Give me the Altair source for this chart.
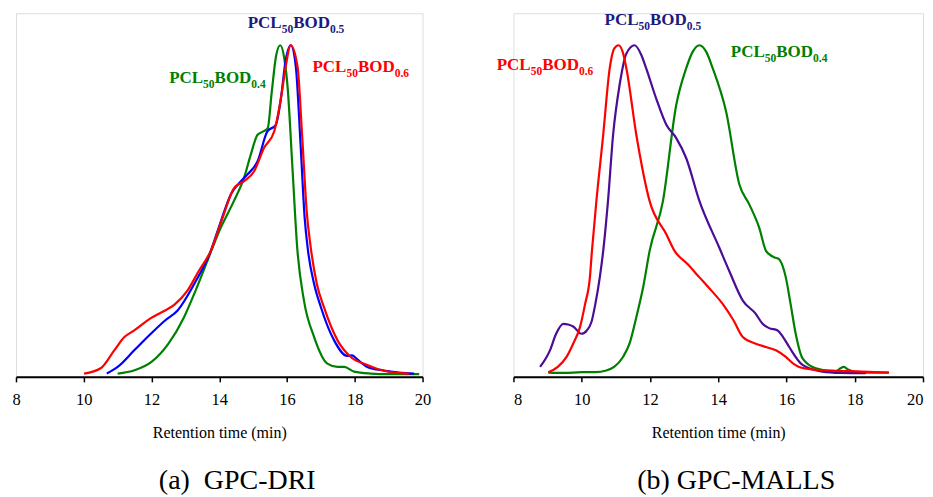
import altair as alt
import pandas as pd

# ---------------- (a) GPC-DRI ----------------
dri_04_x = [11.0, 11.5, 12.0, 12.5, 12.96, 13.3, 13.65, 14.0, 14.43, 14.73, 14.93, 15.13, 15.3, 15.43, 15.55,
            15.68, 15.8, 15.92, 16.02, 16.16, 16.3, 16.5, 16.8, 17.19, 17.49, 17.69, 17.98, 18.47, 19.0, 19.9]
dri_04_y = [0.01, 0.02, 0.045, 0.10, 0.18, 0.26, 0.35, 0.44, 0.53, 0.60, 0.67, 0.73, 0.74, 0.75, 0.86,
            0.97, 1.0, 0.96, 0.87, 0.63, 0.39, 0.23, 0.12, 0.04, 0.03, 0.03, 0.016, 0.01, 0.008, 0.008]

dri_05_x = [10.68, 11.0, 11.49, 11.98, 12.4, 12.77, 13.26, 13.75, 14.05, 14.34, 14.64, 14.83, 15.13, 15.42,
            15.67, 15.82, 15.96, 16.11, 16.26, 16.4, 16.52, 16.62, 16.8, 17.0, 17.39, 17.78, 17.92, 18.05,
            18.37, 18.86, 19.3, 19.75]
dri_05_y = [0.01, 0.03, 0.08, 0.13, 0.17, 0.20, 0.28, 0.38, 0.47, 0.55, 0.59, 0.61, 0.65, 0.74,
            0.76, 0.84, 0.955, 1.0, 0.935, 0.70, 0.48, 0.38, 0.28, 0.21, 0.11, 0.063, 0.065, 0.055,
            0.03, 0.019, 0.013, 0.01]

dri_06_x = [10.01, 10.5, 10.9, 11.2, 11.49, 11.98, 12.3, 12.67, 13.06, 13.4, 13.75, 14.1, 14.44, 14.73, 15.03,
            15.32, 15.62, 15.82, 15.96, 16.11, 16.31, 16.45, 16.58, 16.70, 16.88, 17.09, 17.49, 17.88, 18.37,
            18.8, 19.16, 19.6]
dri_06_y = [0.01, 0.026, 0.08, 0.12, 0.14, 0.177, 0.195, 0.217, 0.26, 0.32, 0.38, 0.48, 0.57, 0.59, 0.62,
            0.69, 0.74, 0.84, 0.935, 1.0, 0.935, 0.72, 0.50, 0.39, 0.28, 0.21, 0.11, 0.06, 0.036,
            0.02, 0.013, 0.01]

# ---------------- (b) GPC-MALLS ----------------
mal_06_x = [9.02, 9.3, 9.56, 9.75, 9.95, 10.1, 10.24, 10.3, 10.43, 10.63, 10.82, 10.95, 11.08, 11.2, 11.31,
            11.6, 11.99, 12.48, 12.72, 13.1, 13.45, 13.8, 14.13, 14.45, 14.72, 15.1, 15.4, 15.69, 15.98,
            16.2, 16.37, 16.8, 17.34, 18.2, 19.0]
mal_06_y = [0.014, 0.03, 0.061, 0.1, 0.15, 0.22, 0.30, 0.38, 0.53, 0.73, 0.93, 0.99, 1.0, 0.98, 0.93,
            0.73, 0.53, 0.43, 0.38, 0.34, 0.30, 0.26, 0.22, 0.17, 0.12, 0.10, 0.09, 0.08, 0.06,
            0.04, 0.03, 0.022, 0.019, 0.016, 0.013]

mal_05_x = [8.78, 9.07, 9.25, 9.46, 9.6, 9.75, 9.99, 10.15, 10.29, 10.4, 10.53, 10.63, 10.77, 10.92, 11.11,
            11.31, 11.55, 11.75, 11.89, 12.18, 12.48, 12.77, 13.06, 13.45, 14.03, 14.32, 14.72, 15.1, 15.3,
            15.49, 15.74, 15.9, 16.08, 16.47, 17.05, 17.6, 18.32]
mal_05_y = [0.03, 0.08, 0.13, 0.16, 0.158, 0.152, 0.13, 0.14, 0.167, 0.22, 0.30, 0.38, 0.53, 0.73, 0.88,
            0.975, 1.0, 0.97, 0.93, 0.84, 0.76, 0.72, 0.66, 0.53, 0.39, 0.32, 0.23, 0.19, 0.16,
            0.147, 0.14, 0.12, 0.09, 0.036, 0.016, 0.012, 0.011]

mal_04_x = [9.02, 9.5, 10.0, 10.4, 10.72, 10.95, 11.21, 11.4, 11.6, 11.8, 11.99, 12.38, 12.77, 13.06, 13.25,
            13.45, 13.65, 13.84, 14.23, 14.62, 14.91, 15.2, 15.4, 15.49, 15.65, 15.78, 15.98, 16.12, 16.27,
            16.47, 16.86, 17.44, 17.58, 17.68, 17.8, 18.12, 19.0]
mal_04_y = [0.013, 0.012, 0.014, 0.014, 0.019, 0.03, 0.06, 0.10, 0.18, 0.27, 0.38, 0.53, 0.82, 0.93, 0.98,
            1.0, 0.98, 0.93, 0.80, 0.58, 0.52, 0.45, 0.38, 0.37, 0.36, 0.355, 0.30, 0.22, 0.13,
            0.056, 0.026, 0.016, 0.026, 0.03, 0.022, 0.013, 0.013]

# label anchors (retention time, relative height) and their subscripts
dri_labels = [("0.5", 14.84, 1.051), ("0.4", 12.52, 0.885), ("0.6", 16.75, 0.92)]
mal_labels = [("0.6", 7.51, 0.925), ("0.5", 10.67, 1.060), ("0.4", 14.37, 0.965)]

ticks = [8, 10, 12, 14, 16, 18, 20]

GREEN = "#008000"
RED = "#ff0000"
BLUE = "#0000ff"
INDIGO = "#4b0c96"
NAVY = "#1a1a80"
FONT = "Liberation Serif, Times New Roman, serif"


def series_df(pairs):
    rows = []
    for name, xs, ys in pairs:
        for i, (x, y) in enumerate(zip(xs, ys)):
            rows.append({"series": name, "x": x, "y": y, "i": i})
    return pd.DataFrame(rows)


def label_df(labels):
    return pd.DataFrame([{"series": "L" + s, "sub": s, "x": x, "y": y} for s, x, y in labels])


def panel(lines, labels, mid_color, caption, width, flush):
    domain = ["0.4", "0.5", "0.6", "L0.4", "L0.5", "L0.6"]
    rng = [GREEN, mid_color, RED, GREEN, NAVY, RED]
    color = alt.Color("series:N", scale=alt.Scale(domain=domain, range=rng), legend=None)
    xenc = alt.X("x:Q", scale=alt.Scale(domain=[8, 20], nice=False, zero=False),
                 axis=alt.Axis(values=ticks, title="Retention time (min)", grid=False,
                               domainColor="black", domainWidth=2, tickColor="black",
                               tickWidth=1.5, tickSize=5, labelFont=FONT, labelFontSize=16.5,
                               labelColor="black", labelPadding=10, labelFlush=flush,
                               titleFont=FONT, titleFontSize=16, titleFontWeight="normal",
                               titleColor="black", titlePadding=16))
    yenc = alt.Y("y:Q", scale=alt.Scale(domain=[0, 1.0964], nice=False), axis=None)

    line = alt.Chart(lines).mark_line(interpolate="monotone", strokeWidth=2.2).encode(
        x=xenc, y=yenc, color=color, detail="series:N", order="i:Q")

    lab = alt.Chart(labels)
    common = dict(align="left", baseline="alphabetic", font=FONT, fontWeight="bold")
    t1 = lab.mark_text(text="PCL", fontSize=17, **common).encode(
        x=alt.X("x:Q"), y=alt.Y("y:Q"), color=color)
    t2 = lab.mark_text(text="50", fontSize=11.5, dx=34, dy=5, **common).encode(
        x=alt.X("x:Q"), y=alt.Y("y:Q"), color=color)
    t3 = lab.mark_text(text="BOD", fontSize=17, dx=45.5, **common).encode(
        x=alt.X("x:Q"), y=alt.Y("y:Q"), color=color)
    t4 = lab.mark_text(fontSize=11.5, dx=82.3, dy=5, **common).encode(
        x=alt.X("x:Q"), y=alt.Y("y:Q"), text="sub:N", color=color)

    return alt.layer(line, t1, t2, t3, t4).properties(
        width=width, height=364,
        title=alt.TitleParams(text=caption, orient="bottom", font=FONT, fontSize=28,
                              fontWeight="normal", color="black", dx=18, offset=27))


left = panel(series_df([("0.4", dri_04_x, dri_04_y), ("0.5", dri_05_x, dri_05_y),
                        ("0.6", dri_06_x, dri_06_y)]),
             label_df(dri_labels), BLUE, "(a)\u00a0 GPC-DRI", 407, False)
right = panel(series_df([("0.4", mal_04_x, mal_04_y), ("0.5", mal_05_x, mal_05_y),
                         ("0.6", mal_06_x, mal_06_y)]),
              label_df(mal_labels), INDIGO, "(b) GPC-MALLS", 410, True)

chart = alt.hconcat(left, right, spacing=91, bounds="flush").resolve_scale(
    color="independent").properties(
    padding={"left": 3, "top": 2, "right": 0, "bottom": 0}
).configure_view(strokeWidth=0).configure(background="white")

chart.save("out.html", embed_options={"renderer": "svg", "actions": False})
